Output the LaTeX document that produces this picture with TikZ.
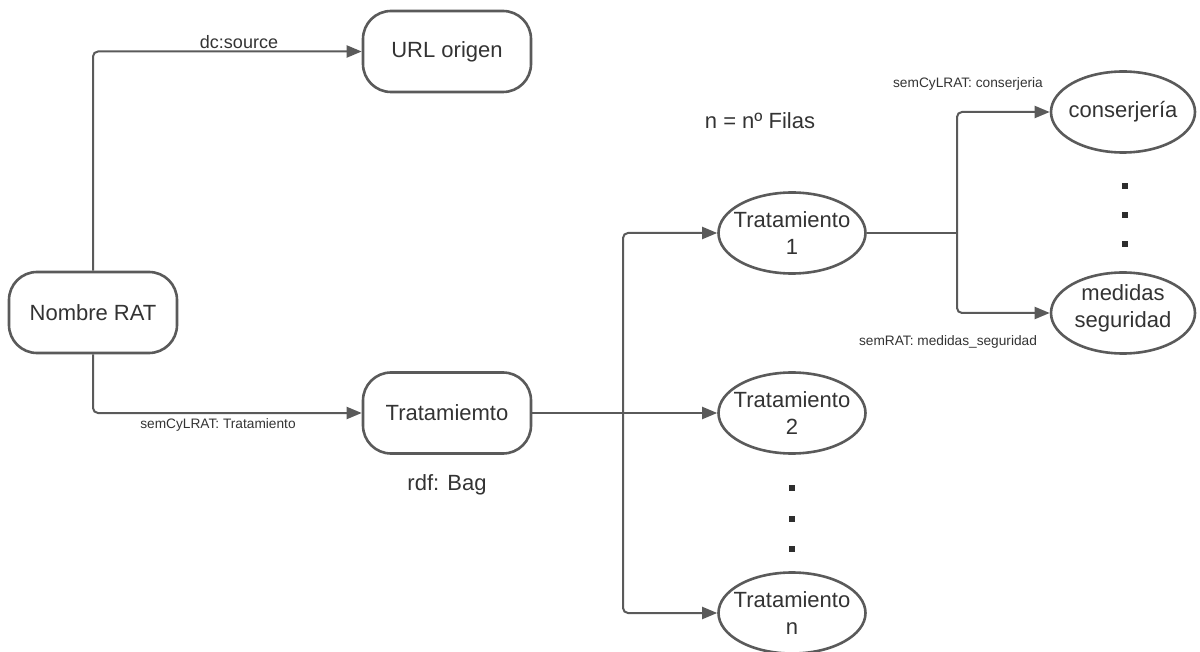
\documentclass[tikz,border=0pt]{standalone}
\usepackage{fontspec}
\setmainfont{Liberation Sans}
\usetikzlibrary{arrows.meta,shapes.geometric}
\definecolor{linec}{HTML}{5A5A5A}
\definecolor{txt}{HTML}{333333}
\definecolor{dotc}{HTML}{2E2E2E}

\tikzset{
  pill/.style={draw=linec, line width=2.6pt, rounded corners=28pt, fill=white,
    minimum width=168pt, minimum height=81pt, inner sep=0pt, text=txt,
    font=\fontsize{22}{27}\selectfont},
  oval/.style={ellipse, draw=linec, line width=2.6pt, fill=white,
    minimum width=147pt, minimum height=81pt, inner sep=0pt},
  ovaltext/.style={text=txt, align=center, font=\fontsize{22}{27}\selectfont},
  link/.style={draw=linec, line width=2pt, rounded corners=5pt,
    -{Triangle[length=15pt,width=12pt]}},
  wire/.style={draw=linec, line width=2pt, rounded corners=5pt},
  small/.style={text=txt, font=\fontsize{13.7}{16}\selectfont},
  mid/.style={text=txt, font=\fontsize{18}{21}\selectfont},
  big/.style={text=txt, font=\fontsize{22}{27}\selectfont},
  dotmark/.style={fill=dotc, minimum size=6.5pt, inner sep=0pt, draw=none}
}

\begin{document}
\begin{tikzpicture}[x=1pt,y=-1pt]
\useasboundingbox (0,0) rectangle (1200,652);

% main nodes
\node[pill] (rat)  at (93,312.5) {Nombre RAT};
\node[pill] (url)  at (447,51.5) {URL origen};
\node[pill] (trat) at (447,413)  {Tratamiemto};

\node[oval, label={[ovaltext]center:Tratamiento\\1}] (t1) at (792,233) {};
\node[oval, label={[ovaltext]center:Tratamiento\\2}] (t2) at (792,413) {};
\node[oval, label={[ovaltext]center:Tratamiento\\n}] (tn) at (792,613) {};

\node[oval, minimum width=144pt, label={[ovaltext]center:conserjería}] (cons) at (1123,112) {};
\node[oval, minimum width=144pt, label={[ovaltext, yshift=5pt]center:medidas\\seguridad}] (med) at (1123,313) {};

% junction points
\coordinate (bus) at (623,413);
\coordinate (br)  at (957,233);

% connectors
\draw[link] (rat.north) |- (url.west);
\draw[link] (rat.south) |- (trat.west);
\draw[link] (trat.east) -- (t2.west);
\draw[link] (bus) |- (t1.west);
\draw[link] (bus) |- (tn.west);
\draw[wire] (t1.east) -- (br);
\draw[link] (br) |- (cons.west);
\draw[link] (br) |- (med.west);

% edge labels and notes
\node[mid]   (lsrc)  at (239,42)  {dc:source};
\node[small] (ltrat) at (218,425) {semCyLRAT: Tratamiento};
\node[big]   (lbag)  at (447,485) {rdf: Bag};
\node[big]   (lrows) at (760,121) {n = nº Filas};
\node[small] (lcons) at (968,84)  {semCyLRAT: conserjeria};
\node[small] (lmed)  at (948,342) {semRAT: medidas\_seguridad};

% ellipsis dots
\node[dotmark] (d1) at (792,488) {};
\node[dotmark] (d2) at (792,519) {};
\node[dotmark] (d3) at (792,549) {};
\node[dotmark] (e1) at (1125,186) {};
\node[dotmark] (e2) at (1125,215) {};
\node[dotmark] (e3) at (1125,244) {};
\end{tikzpicture}
\end{document}
